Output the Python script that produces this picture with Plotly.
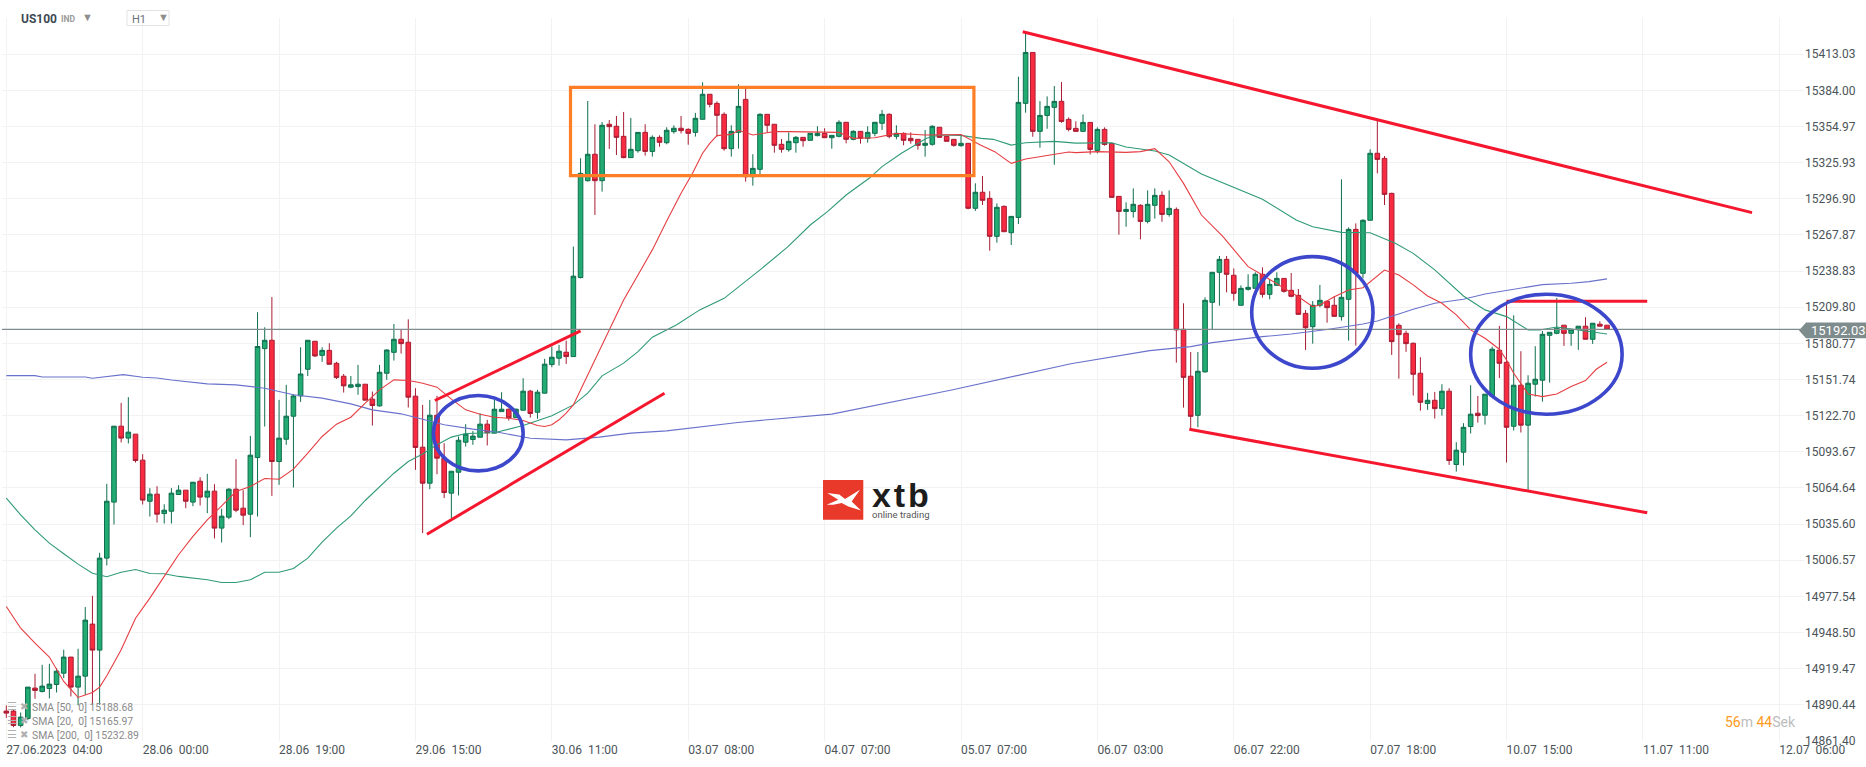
import plotly.graph_objects as go

# ---------- candle values (prices) ----------
opens = [
14885.4,14885.4,14873.9,14879.5,14903.9,14901.2,14903.6,14906.8,14915.9,14928.8,
14904.7,14913.5,14955.3,14934.4,15008.3,15053.3,15114.3,15104.7,15107.9,15087,
15054,15059.7,15044.1,15046,15059.4,15062.9,15053.3,15070.1,15057.3,15062.1,
15032.4,15041.2,15063.7,15048.4,15043.6,15089.1,15176.6,15183.3,15085.9,15103.8,
15122.3,15138.6,15160,15182.5,15171.2,15175.2,15164.8,15154.4,15145.6,15146.1,
15148,15136,15130.6,15156.8,15173.6,15184.1,15181.7,15138.4,15097.4,15068.5,
15123.1,15088.6,15060.5,15077.3,15101.4,15103.6,15105.4,15115.9,15108.7,15126,
15127.9,15121.2,15127.1,15142.4,15125.5,15140.8,15163.8,15168.9,15173.7,15170.2,
15233.7,15311.5,15332.7,15311.5,15356.8,15355.2,15347.1,15330,15335.6,15350.3,
15335,15346.3,15342,15350.9,15353.6,15352.7,15350.3,15360.8,15380.9,15373.6,
15364.8,15337.2,15350.3,15376.8,15314.7,15320.6,15364.8,15356.8,15340.7,15336.4,
15342,15346.3,15343.9,15347.7,15349.5,15346,15347.1,15358.4,15344.7,15351.1,
15345.5,15349.5,15357.6,15364.8,15347.1,15349.5,15345.5,15344.7,15339.9,15340.7,
15354.4,15347.1,15344.7,15339.6,15341.5,15289.3,15302.2,15297.3,15266.8,15290.9,
15269.7,15282,15373.6,15414.5,15351.1,15363.9,15370.4,15375.2,15360.7,15353.5,
15351.1,15358.3,15335.8,15352.7,15341.4,15298.9,15286.8,15286.8,15291.7,15278.8,
15291.7,15299.7,15284.4,15288.4,15192.1,15154.4,15123,15157.9,15213.8,15237.9,
15248.3,15235.5,15211.4,15224.2,15225,15236.3,15220.2,15227.4,15233,15223.4,
15219.4,15204.9,15194.2,15211.4,15214.6,15211.4,15202.3,15216.2,15272.4,15237.1,
15279.7,15333.5,15329.4,15301.3,15195.3,15188.9,15180.9,15156.8,15132.5,15135.1,
15128.4,15142.4,15083.5,15093.4,15114,15124.7,15123.1,15138.3,15175.3,15165.6,
15114.2,15147.2,15115.1,15148,15151.2,15187.3,15188.9,15195.4,15188.9,15192.1,
15194.6,15184.1,15196.2,15195.4]

highs = [
14890,14886.5,14884.3,14904.7,14915.4,14922.6,14923.4,14920,14934.7,14928.8,
14935.5,14969,14978,15012.6,15068,15114.3,15133,15137.6,15107.9,15091.8,
15064.5,15066.1,15051.6,15064.5,15066.9,15062.9,15069.3,15073.3,15076,15067.7,
15048,15064.5,15087.8,15062.9,15106.5,15205.8,15193.7,15218,15135.4,15147.5,
15140,15177.7,15183.3,15182.5,15177.7,15180.9,15166,15156.2,15154.6,15163.5,
15148,15142.1,15163.5,15176,15196.4,15192.1,15200.1,15144.8,15131.4,15135.4,
15138.7,15100.6,15078.1,15106,15115.9,15110.3,15124.7,15119.4,15135.4,15141.6,
15128.5,15128.5,15152.8,15143.5,15143.5,15168.4,15178.3,15179.6,15183,15258.5,
15329.5,15375.5,15356.8,15358.6,15360.2,15363.5,15366.7,15361.9,15350.3,15356.8,
15347.9,15347.9,15354.4,15356,15363.5,15353.6,15365.9,15390.5,15380.9,15375.2,
15366.4,15356,15388.9,15385.7,15332.7,15365.6,15364.8,15356.8,15345,15350.3,
15347.4,15346.3,15349.5,15355.2,15353.6,15347.9,15360,15358.4,15352,15351.1,
15355.2,15358.4,15368.3,15365.6,15356,15350.3,15350.3,15344.7,15352.2,15356,
15354.4,15347.1,15344.7,15347.9,15341.5,15309.4,15315.3,15303,15293.3,15291.5,
15282.8,15395,15431.1,15414.5,15375.4,15379.2,15387.5,15390.7,15362.3,15359.1,
15364.7,15358.3,15354.3,15354.3,15341.4,15298.9,15294.1,15305.3,15292.5,15303.7,
15305.3,15302.9,15303.7,15290,15213,15173.9,15173.9,15217.8,15237.9,15251,
15251,15241,15227.4,15236.3,15237.9,15241.9,15232.3,15237.9,15233,15237.3,
15224.5,15207.6,15214.8,15227.7,15214.6,15218.6,15312.6,15274,15277.2,15280.5,
15336.7,15360.8,15331.3,15301.8,15196.9,15191,15181.5,15169.7,15141,15141.8,
15148,15144.8,15101.4,15116.7,15147.2,15138.6,15140,15178.2,15194.8,15214.4,
15203.4,15174.5,15155.2,15178.5,15190.8,15189.7,15217.3,15195.4,15192.1,15194.6,
15201.8,15197,15198.6,15195.4]

lows = [
14880,14872.5,14872.3,14878,14895.3,14900.4,14895.6,14900.4,14911.9,14897.2,
14890,14898.5,14890.5,14890.5,15002.4,15035.3,15101.2,15100.4,15085.1,15051.4,
15041.7,15036.9,15036.1,15036.1,15059.4,15048.4,15050,15050.6,15044.4,15024.1,
15020.9,15039.6,15045.2,15034.8,15025.1,15041.7,15114,15058.3,15067.2,15099.3,
15065,15133.8,15154.6,15169.9,15166,15164,15152.2,15141.3,15144.8,15139.5,
15135,15114.8,15130,15151.5,15167,15172.6,15129.3,15079.2,15028.4,15063.7,
15075.7,15056.5,15040.4,15058.6,15097.9,15099.3,15105.4,15098.8,15108.7,15126,
15118.8,15120.7,15127.1,15121.2,15120.2,15140.8,15161.7,15163,15164.3,15170.2,
15233,15310.7,15284,15302.7,15337,15332.1,15329.5,15330,15334,15331.6,
15330.8,15338.8,15340.7,15349.3,15349.5,15340.4,15346.9,15360.8,15370.4,15346.9,
15335.6,15330.8,15337.2,15310.7,15307.5,15316,15350.3,15334,15334,15334.8,
15334,15338.8,15343.9,15347.1,15346,15337.2,15346.3,15341.5,15343.9,15341.2,
15342,15347.1,15352.2,15345.5,15344.7,15339.9,15341.2,15336.4,15330.8,15339.6,
15346.3,15343.1,15338.8,15338.8,15288.5,15287.2,15292,15255.3,15261.7,15270.5,
15259.8,15276.7,15366.1,15346.8,15338,15353.2,15324.3,15358,15351.1,15351.1,
15351.1,15332.6,15333.4,15339.6,15298.1,15268.1,15274.5,15281.8,15264.4,15277.2,
15281,15278.5,15282.6,15165.3,15129.2,15111.2,15113.4,15157.3,15191.6,15211.1,
15221.8,15215.1,15211.4,15223.2,15225,15217.5,15216.2,15227.4,15221.5,15217.8,
15204.1,15175.5,15180.6,15209.8,15197.4,15202.5,15199.1,15183,15179,15233.1,
15279.7,15317.4,15292,15171.5,15152.5,15174,15138.9,15126.8,15127.4,15120.4,
15122.8,15083.2,15077.8,15082.7,15108.4,15117.2,15115.6,15138.3,15153,15085.1,
15110.8,15109.2,15063.1,15138.1,15134,15149.3,15188.1,15178.8,15178.8,15175.6,
15184.1,15180.4,15194.6,15192.1]

closes = [
14883.8,14873.9,14880.6,14904.7,14902,14905.5,14907.1,14917.5,14928.8,14904.7,
14913.5,14958.5,14934.4,15008.3,15054,15114.3,15104.7,15109.5,15086.7,15054.9,
15059.7,15043.6,15046.8,15060.5,15062.9,15054,15069.3,15057.3,15062.1,15032.4,
15042,15063.7,15046.8,15042.8,15091,15178.3,15183.3,15085.9,15104.7,15122.3,
15138.6,15156.2,15183.3,15170.7,15175.2,15164,15153.3,15146.7,15147.5,15148,
15135.2,15130.9,15157.6,15175.5,15184.1,15180.6,15137.6,15097.2,15068.5,15123.1,
15088.6,15061,15078.1,15103,15107.9,15106.3,15115.9,15109,15127.9,15127.9,
15121,15127.9,15142.4,15124.5,15141.6,15164.1,15169.7,15174.5,15170.2,15234.8,
15317.4,15332.7,15311.5,15356,15354.9,15346.3,15330,15336.7,15350.3,15335,
15346.3,15342.3,15352,15353.6,15351.7,15349.5,15361.6,15380.9,15372.8,15364,
15337.2,15351.1,15371.2,15314.7,15321.4,15364.8,15356,15339.9,15336.7,15343.1,
15346.3,15343.6,15349.5,15349.5,15346,15347.9,15358.4,15344.7,15351.1,15345.5,
15350.3,15358.4,15364.8,15347.1,15349.5,15343.9,15343.6,15339.9,15341.5,15355.2,
15346.3,15343.1,15339.9,15341.5,15289.3,15302.2,15295.7,15266.8,15290.1,15270.5,
15282.8,15374.4,15414.5,15351.1,15363.9,15371.2,15375.2,15359.1,15352.7,15351.1,
15358.3,15336.6,15352.7,15340.6,15298.1,15286.8,15288.4,15292.5,15278.8,15292.5,
15299.7,15284.4,15289.3,15191.6,15153.5,15122.2,15158.4,15215.4,15237.9,15248.3,
15236.3,15221,15225,15225.8,15236.3,15220.2,15228.2,15233,15222.6,15218.6,
15204.1,15193.4,15211.4,15215.4,15209.5,15202.5,15217.8,15272.4,15237.1,15279.7,
15333.5,15328.6,15300.5,15182.2,15187.8,15180.6,15156,15133.5,15135.1,15128.4,
15142.4,15086.7,15095,15113.4,15123.9,15122.8,15140,15176.1,15164.8,15113.4,
15147.2,15115.1,15148.8,15152,15188.1,15189.7,15193,15188.9,15192.1,15194.6,
15184.1,15197,15194.6,15192.1]

# ---------- moving averages ----------
sma20_x = [0,2,4,6,8,10,12,13,14,16,18,20,22,24,26,28,30,32,34,36,38,40,42,44,46,48,50,52,54,56,57,58,60,62,64,66,68,
70,72,74,75,76,77,78,79,80,81,82,84,86,88,90,92,94,95.6,97,98,99,101,102,104,107,109,116,118,121,124,128,133,135.7,
137.7,140,142,144,146,148,149,152,156,158,160,162,164,166.5,169.5,173,175,177,180,182,183,185,187,189,192,194,196,
198,200,202,204,206,208,209,210,212,214,216,218,220,221.5,223]
sma20_y = [14969.5,14952,14940,14928.8,14909.2,14896.4,14900.4,14904.7,14913.8,14934.7,14960,14976.2,14993.6,15011,15025.7,
15039,15050.3,15061.8,15065.8,15072.3,15071.7,15079.8,15092.6,15106,15115.9,15121.5,15132.8,15143.5,15151.5,15151,15150,
15148.8,15145.6,15136,15127.4,15123.9,15121.5,15120.7,15118.8,15114.8,15114,15115.4,15119.4,15124.7,15131.4,15143.5,15155.5,
15167.6,15191.7,15215.7,15235.8,15255.9,15279.1,15301.4,15317.4,15333.5,15341.5,15347.7,15348.7,15352,15348.2,15350.9,15350.9,
15350.3,15345.5,15346,15349.5,15348.2,15348.5,15340.2,15334.8,15325.4,15328.9,15330.7,15332.9,15334.5,15334,15334.8,15334.2,
15334.8,15337.2,15326.7,15309.3,15283.9,15266.5,15242.4,15235.7,15229,15218.3,15210.3,15211.6,15218.3,15223.7,15225.5,15239.7,
15235.7,15227.8,15218.9,15213,15203.7,15191.6,15184.9,15176.1,15167.5,15156.8,15140.2,15138,15140.2,15146.1,15150.9,15160,15165.6]

sma50_x = [0,2,4,6,8,10,12,14,16,18,20,22,24,26,28,30,32,34,36,38,40,42,44,46,48,50,52,54,56,58,60,62,64,66,68,72,76,79,81,83,
86,88,90,93.4,96.6,100,102.7,105,108.9,112,114.4,117,120.2,122,124.7,128.2,130,133,135.8,137.5,140,142,146,149,154,156,160,162,
166.5,170.5,175,179.7,182,186,190,193.5,196,199,203,206,209,212,213.6,216,218.5,223]
sma50_y = [15056.5,15043.1,15031,15020.3,15011.8,15003.5,14996.2,14993.3,14997,14999.2,14996,14995.7,14993.6,14992.5,14990.9,
14988.7,14988.7,14990.9,14997,14997,15000,15008.3,15021.1,15032.4,15042.3,15054.6,15065.3,15076.5,15085.9,15092,15099.3,15105.5,
15108.4,15108.7,15109,15114.8,15122.6,15131.4,15140.8,15154.7,15164.9,15174.2,15185.8,15195.7,15207.7,15217,15229.4,15239.8,
15258.5,15275.9,15286.6,15300,15313.4,15322.8,15333.5,15345.5,15348.2,15347.9,15345.5,15344.7,15340.1,15342,15343.1,15341.7,
15342,15338.5,15335.3,15332.1,15316.8,15307.5,15296.5,15279.9,15274.5,15270,15269.7,15261.2,15253.1,15239.8,15218.9,15207.7,
15202.3,15191.6,15191.6,15194,15192.1,15188.4]

sma200_x = [0,4,5,11,12,14,16.3,19,21,23,28,32,36,40,44,48,51,55,58,61,65,68.7,73,78,82.6,87,92,96.6,101.9,115,131.7,148.3,159.3,
165,168,175,179,184,189,191,193.5,196,199,203,206,210.5,214,218,220.5,223]
sma200_y = [15154.9,15154.9,15153.8,15153.8,15152.8,15154.1,15155.7,15153.6,15153,15151.4,15148.3,15147.5,15144.8,15139.5,15136.8,
15132.2,15127.4,15124.2,15119.9,15115.4,15111.9,15109.2,15104.6,15103.3,15105.5,15108.7,15110.5,15113.5,15117.3,15124,15143.4,
15164.4,15175,15178.2,15181.4,15186.2,15188.3,15192,15196.4,15198.8,15203.6,15208.2,15213,15216.2,15220.5,15225,15228,15229.1,
15230.4,15232.6]

# ---------- axes ----------
price_ticks = [15413.03,15384.00,15354.97,15325.93,15296.90,15267.87,15238.83,15209.80,15180.77,15151.74,
               15122.70,15093.67,15064.64,15035.60,15006.57,14977.54,14948.50,14919.47,14890.44,14861.40]
time_labels = ["27.06.2023  04:00","28.06  00:00","28.06  19:00","29.06  15:00","30.06  11:00","03.07  08:00",
               "04.07  07:00","05.07  07:00","06.07  03:00","06.07  22:00","07.07  18:00","10.07  15:00",
               "11.07  11:00","12.07  06:00"]
bars_per_label = 19
last_price = 15192.03

# ---------- drawings on the chart: [bar0, price0, bar1, price1] ----------
red_lines = [[59.7,15134.9,80.0,15190.8],[58.6,15027.5,91.7,15140.8],
             [141.6,15431.1,243.2,15285.8],[164.8,15111.8,228.6,15044.7],
             [209,15214.6,228.6,15214.6]]
orange_box = [78.6,15386.5,134.8,15315.5]
blue_rings = [[59.5,15138.9,72,15078.4],[173.5,15250.5,190.4,15160.8],[204,15220.3,225.1,15123.9]]

sma_legend = ["SMA [50,\u00a0 0] 15188.68","SMA [20,\u00a0 0] 15165.97","SMA [200,\u00a0 0] 15232.89"]

W, H = 1866, 767
PL, PR, PT, PB = 2, 1804, 18, 741.3
def xp(px): return (px - PL) / (PR - PL)
def yp(py): return (PB - py) / (PB - PT)

bars = list(range(len(opens)))
fig = go.Figure()
fig.add_trace(go.Candlestick(
    x=bars, open=opens, high=highs, low=lows, close=closes,
    increasing=dict(line=dict(color="#0f6e4e", width=1), fillcolor="#22ab72"),
    decreasing=dict(line=dict(color="#a81c33", width=1), fillcolor="#f92b41"),
    whiskerwidth=0, hoverinfo="skip", showlegend=False))
for xs, ys, col in [(sma200_x, sma200_y, "#6a72cc"), (sma50_x, sma50_y, "#2f9a78"), (sma20_x, sma20_y, "#e63d42")]:
    fig.add_trace(go.Scatter(x=xs, y=ys, mode="lines", line=dict(color=col, width=1.1),
                             hoverinfo="skip", showlegend=False))

shapes = []
# logo backing, square and mark
shapes.append(dict(type="rect", xref="paper", yref="paper", x0=xp(810), x1=xp(939), y0=yp(525), y1=yp(465),
                   fillcolor="white", line_width=0, layer="between"))
shapes.append(dict(type="rect", xref="paper", yref="paper", x0=xp(823), x1=xp(863.3), y0=yp(520), y1=yp(480.3),
                   fillcolor="#e8392b", line_width=0))
mark = [(827.3,493.3),(839.3,494.7),(845,499.3),(860,490),(851.7,501.7),(861,510.7),(848.3,506.7),
        (841.7,503.3),(833.3,505),(826.7,505),(838.3,500)]
shapes.append(dict(type="path", xref="paper", yref="paper", fillcolor="white", line_width=0,
                   path="M " + " L ".join(f"{xp(a):.5f},{yp(b):.5f}" for a, b in mark) + " Z"))
# last price line and flag
shapes.append(dict(type="line", x0=-0.599, x1=250.4, y0=last_price, y1=last_price,
                   line=dict(color="#7f8c8d", width=1.2)))
flag = [(1799,330.6),(1806,322.7),(1866,322.7),(1866,338.4),(1806,338.4)]
shapes.append(dict(type="path", xref="paper", yref="paper", fillcolor="#7f8c8d", line_width=0,
                   path="M " + " L ".join(f"{xp(a):.5f},{yp(b):.5f}" for a, b in flag) + " Z"))
for b0, p0, b1, p1 in red_lines:
    shapes.append(dict(type="line", x0=b0, y0=p0, x1=b1, y1=p1, line=dict(color="#f5172e", width=3)))
shapes.append(dict(type="rect", x0=orange_box[0], y0=orange_box[1], x1=orange_box[2], y1=orange_box[3],
                   line=dict(color="#fd7e24", width=3.2)))
for b0, p0, b1, p1 in blue_rings:
    shapes.append(dict(type="circle", x0=b0, y0=p0, x1=b1, y1=p1, line=dict(color="#3c47cb", width=3.6)))

def label(px, py, text, size, color, anchor="left", family="Roboto", **kw):
    return dict(xref="paper", yref="paper", x=xp(px), y=yp(py), text=text, showarrow=False, xanchor=anchor,
                yanchor="middle", font=dict(family=family, size=size, color=color), borderpad=0, **kw)

notes = [
    label(20, 19, "<b>US100</b>", 12, "#3d4a52"),
    label(60, 19.5, "<b>IND</b>", 8.5, "#9a9a9a"),
    label(80.5, 17, "▼", 11, "#8e8e8e"),
    label(131, 20, "H1", 11, "#6b7278"),
    label(156.5, 17, "▼", 11, "#8e8e8e"),
    label(1810, 330.6, f"{last_price:.2f}", 13, "#ffffff"),
    label(871, 495, "<b>x\u200at\u200ab</b>", 34, "#1d1d1b", family="Liberation Sans"),
    label(871, 515, "online trading", 9.5, "#555555"),
    label(1724, 722, '<span style="color:#fd9a24">56</span>m <span style="color:#fd9a24">44</span>Sek', 14, "#bdbdbd"),
]
for k, txt in enumerate(sma_legend):
    py = 707.7 + 14 * k
    notes.append(label(31, py, txt, 10.4, "#8a8a8a"))
    notes.append(label(5.5, py - 1, "☰", 11, "#b0b0b0"))
    notes.append(label(18.5, py - 1, "✖", 9.5, "#b0b0b0"))

shapes.append(dict(type="rect", xref="paper", yref="paper", x0=xp(127), x1=xp(169), y0=yp(25.5), y1=yp(10.5),
                   fillcolor="rgba(255,255,255,0)", line=dict(color="#e2e2e2", width=1)))

fig.update_layout(
    width=W, height=H, autosize=False, paper_bgcolor="white", plot_bgcolor="white",
    margin=dict(l=PL, r=W - PR, t=PT, b=H - PB, pad=0), showlegend=False, boxgap=0.36, boxgroupgap=0,
    shapes=shapes, annotations=notes, hovermode=False,
    xaxis=dict(type="linear", range=[-0.599, 250.44], rangeslider=dict(visible=False),
               tickmode="array", tickvals=[bars_per_label * k for k in range(len(time_labels))],
               ticktext=[t.replace("  ", "\u00a0\u00a0") for t in time_labels],
               ticklabelposition="outside right", ticks="", showgrid=True, gridcolor="#f2f2f2", gridwidth=1,
               showline=False, zeroline=False, tickfont=dict(family="Roboto", size=12, color="#4c5459")),
    yaxis=dict(side="right", range=[14861.40, 15442.17], tickmode="array", tickvals=price_ticks,
               ticktext=[f"{p:.2f}" for p in price_ticks], ticks="", showgrid=True, gridcolor="#f2f2f2",
               gridwidth=1, showline=False, zeroline=False,
               tickfont=dict(family="Roboto", size=12, color="#4c5459")),
)
fig.write_html("out.html", config=dict(displayModeBar=False),
               post_script="document.body.style.margin='0';document.body.style.overflow='hidden';")
